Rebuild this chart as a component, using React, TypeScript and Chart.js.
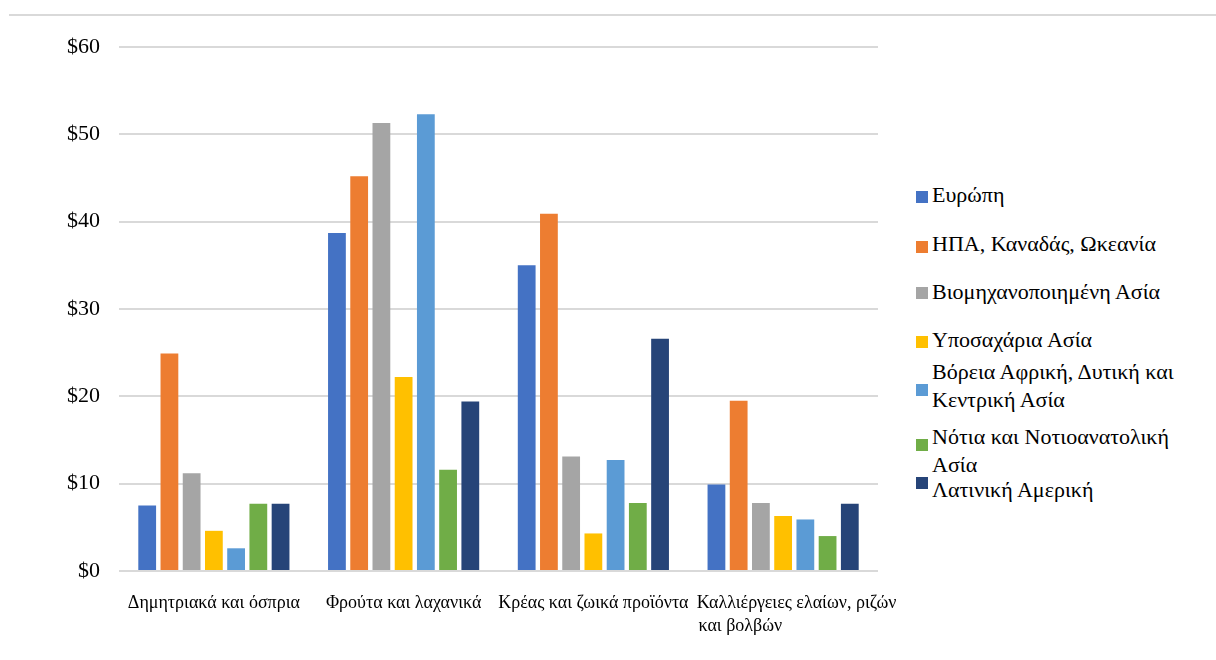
import React, { useEffect, useRef } from "react";
import { Chart, registerables } from "chart.js";

Chart.register(...registerables);

const categories: (string | string[])[] = [
  "Δημητριακά και όσπρια",
  "Φρούτα και λαχανικά",
  "Κρέας και ζωικά προϊόντα",
  ["      Καλλιέργειες ελαίων, ριζών", "και βολβών                   "],
];

const seriesNames = [
  "Ευρώπη",
  "ΗΠΑ, Καναδάς, Ωκεανία",
  "Βιομηχανοποιημένη Ασία",
  "Υποσαχάρια Ασία",
  "Βόρεια Αφρική, Δυτική και Κεντρική Ασία",
  "Νότια και Νοτιοανατολική Ασία",
  "Λατινική Αμερική",
];

const europe = [7.5, 38.7, 35.0, 9.9];
const usaCanadaOceania = [24.9, 45.2, 40.9, 19.5];
const industrialAsia = [11.2, 51.3, 13.1, 7.8];
const subSaharan = [4.6, 22.2, 4.3, 6.3];
const northAfricaAsia = [2.6, 52.3, 12.7, 5.9];
const southSeAsia = [7.7, 11.6, 7.8, 4.0];
const latinAmerica = [7.7, 19.4, 26.6, 7.7];

const seriesValues = [
  europe,
  usaCanadaOceania,
  industrialAsia,
  subSaharan,
  northAfricaAsia,
  southSeAsia,
  latinAmerica,
];

const colors = ["#4472C4", "#ED7D31", "#A5A5A5", "#FFC000", "#5B9BD5", "#70AD47", "#264478"];

const yTicks = [0, 10, 20, 30, 40, 50, 60];

// legend layout (pixel positions, style only)
const legendTextTop = [181, 230, 278, 326, 358, 423, 476];
const legendBoxCenter = [197, 247, 293, 342, 390, 445, 483];

const FONT = "'Liberation Serif', 'Times New Roman', serif";

export default function App() {
  const canvasRef = useRef<HTMLCanvasElement | null>(null);

  useEffect(() => {
    if (!canvasRef.current) return;
    const chart = new Chart(canvasRef.current, {
      type: "bar",
      data: {
        labels: categories,
        datasets: seriesNames.map((name, i) => ({
          label: name,
          data: seriesValues[i],
          backgroundColor: colors[i],
          borderWidth: 0,
          categoryPercentage: 0.82,
          barPercentage: 0.8,
        })),
      },
      options: {
        responsive: false,
        animation: false,
        devicePixelRatio: 1,
        layout: { padding: { left: 0, top: 47, right: 22, bottom: 0 } },
        plugins: {
          legend: { display: false },
          tooltip: { enabled: false },
        },
        scales: {
          x: {
            grid: { display: false },
            border: { display: false },
            ticks: {
              color: "#000",
              font: { family: FONT, size: 18, lineHeight: 1.28 },
              padding: 13,
              maxRotation: 0,
              minRotation: 0,
              autoSkip: false,
            },
            afterFit: (scale: any) => {
              scale.height = 89;
              scale.paddingLeft = 0;
              scale.paddingRight = 0;
            },
          },
          y: {
            min: 0,
            max: 60,
            afterBuildTicks: (scale: any) => {
              scale.ticks = yTicks.map((v) => ({ value: v }));
            },
            grid: { color: "#d9d9d9", lineWidth: 2, drawTicks: false },
            border: { display: false },
            ticks: {
              color: "#000",
              font: { family: FONT, size: 22 },
              padding: 19,
              callback: (v: any) => "$" + v,
            },
            afterFit: (scale: any) => {
              scale.width = 119;
            },
          },
        },
      },
    });
    return () => chart.destroy();
  }, []);

  return (
    <div style={{ position: "absolute", left: 0, top: 0, width: 1216, height: 660, background: "#fff", fontFamily: FONT }}>
      <div style={{ position: "absolute", left: 9, top: 14, width: 1207, height: 2, background: "#d9d9d9" }} />
      <canvas
        ref={canvasRef}
        width={900}
        height={660}
        style={{ position: "absolute", left: 0, top: 0, width: 900, height: 660 }}
      />
      {seriesNames.map((name, i) => (
        <React.Fragment key={name}>
          <div
            style={{
              position: "absolute",
              left: 916,
              top: legendBoxCenter[i] - 6,
              width: 12,
              height: 12,
              background: colors[i],
            }}
          />
          <div
            style={{
              position: "absolute",
              left: 932,
              top: legendTextTop[i],
              width: 275,
              fontSize: 22,
              lineHeight: "28px",
              color: "#000",
              fontFamily: FONT,
            }}
          >
            {name}
          </div>
        </React.Fragment>
      ))}
    </div>
  );
}
